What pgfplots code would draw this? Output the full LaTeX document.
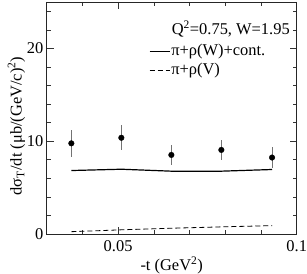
\documentclass[border=0pt]{standalone}
\usepackage{fontspec}
\setmainfont{Liberation Serif}
\usepackage{pgfplots}
\pgfplotsset{compat=1.18}
\begin{document}
\begin{tikzpicture}
\begin{axis}[
  scale only axis,
  width=250bp, height=232bp,
  xmin=0.03, xmax=0.1, ymin=0, ymax=25,
  xtick={0.05,0.1}, xticklabels={0.05,0.1},
  minor xtick={0.03,0.04,0.06,0.07,0.08,0.09},
  ytick={0,10,20},
  minor ytick={2,4,6,8,12,14,16,18,22,24},
  tick align=inside,
  major tick length=7bp, minor tick length=4bp,
  tick style={black!80, line width=0.6pt},
  axis line style={black!85, line width=0.8pt},
  /pgf/number format/assume math mode=true,
  tick label style={font=\fontsize{16.5}{18}\selectfont},
  xticklabel style={inner sep=0pt, yshift=-6.5bp},
  yticklabel style={inner sep=0pt, xshift=-3.2bp},
  label style={font=\fontsize{16.5}{18}\selectfont},
  xlabel={-t (GeV\textsuperscript{2})},
  ylabel={dσ\textsubscript{T}/dt (μb/(GeV/c)\textsuperscript{2})},
  xlabel style={at={(axis description cs:0.5,-0.159)}, anchor=base},
  ylabel style={at={(axis description cs:-0.1,0.466)}, anchor=base},
  legend style={draw=none, fill=none, inner sep=0pt, at={(0.409,0.8276)}, anchor=north west,
    font=\fontsize{16.5}{18}\selectfont, row sep=0.5bp,
    nodes={text height=12bp, text depth=4.5bp, inner sep=1bp}},
  legend cell align=left,
  legend image code/.code={\draw[#1] (0bp,0bp) -- (20bp,0bp);},
]
\addplot[black, line width=1.2bp] coordinates {
 (0.0369,6.84) (0.0509,6.98) (0.0649,6.77) (0.0789,6.77) (0.0931,6.95)};
\addlegendentry{π+ρ(W)+cont.}
\addplot[black, dash pattern=on 5bp off 3bp, line width=0.8bp] coordinates {
 (0.0369,0.25) (0.0509,0.45) (0.0649,0.62) (0.0789,0.77) (0.0931,0.90)};
\addlegendentry{π+ρ(V)}
\addplot[black, only marks, mark=*, mark size=2.8bp,
  error bars/.cd, y dir=both, y explicit,
  error bar style={line width=1bp, black!55}, error mark=none]
  coordinates {
 (0.0369,9.77) +- (0,1.45)
 (0.0509,10.37) +- (0,1.35)
 (0.0649,8.52) +- (0,1.1)
 (0.0789,9.06) +- (0,1.1)
 (0.0931,8.24) +- (0,1.15)};
\node[anchor=base east, font=\fontsize{16.5}{18}\selectfont, inner sep=0pt]
  at (axis description cs:0.973,0.858) {Q\textsuperscript{2}=0.75, W=1.95};
\end{axis}
\pgfresetboundingbox
\useasboundingbox (current axis.south west) ++(-46.7bp,-40bp) rectangle ++(307bp,274bp);
\end{tikzpicture}
\end{document}
